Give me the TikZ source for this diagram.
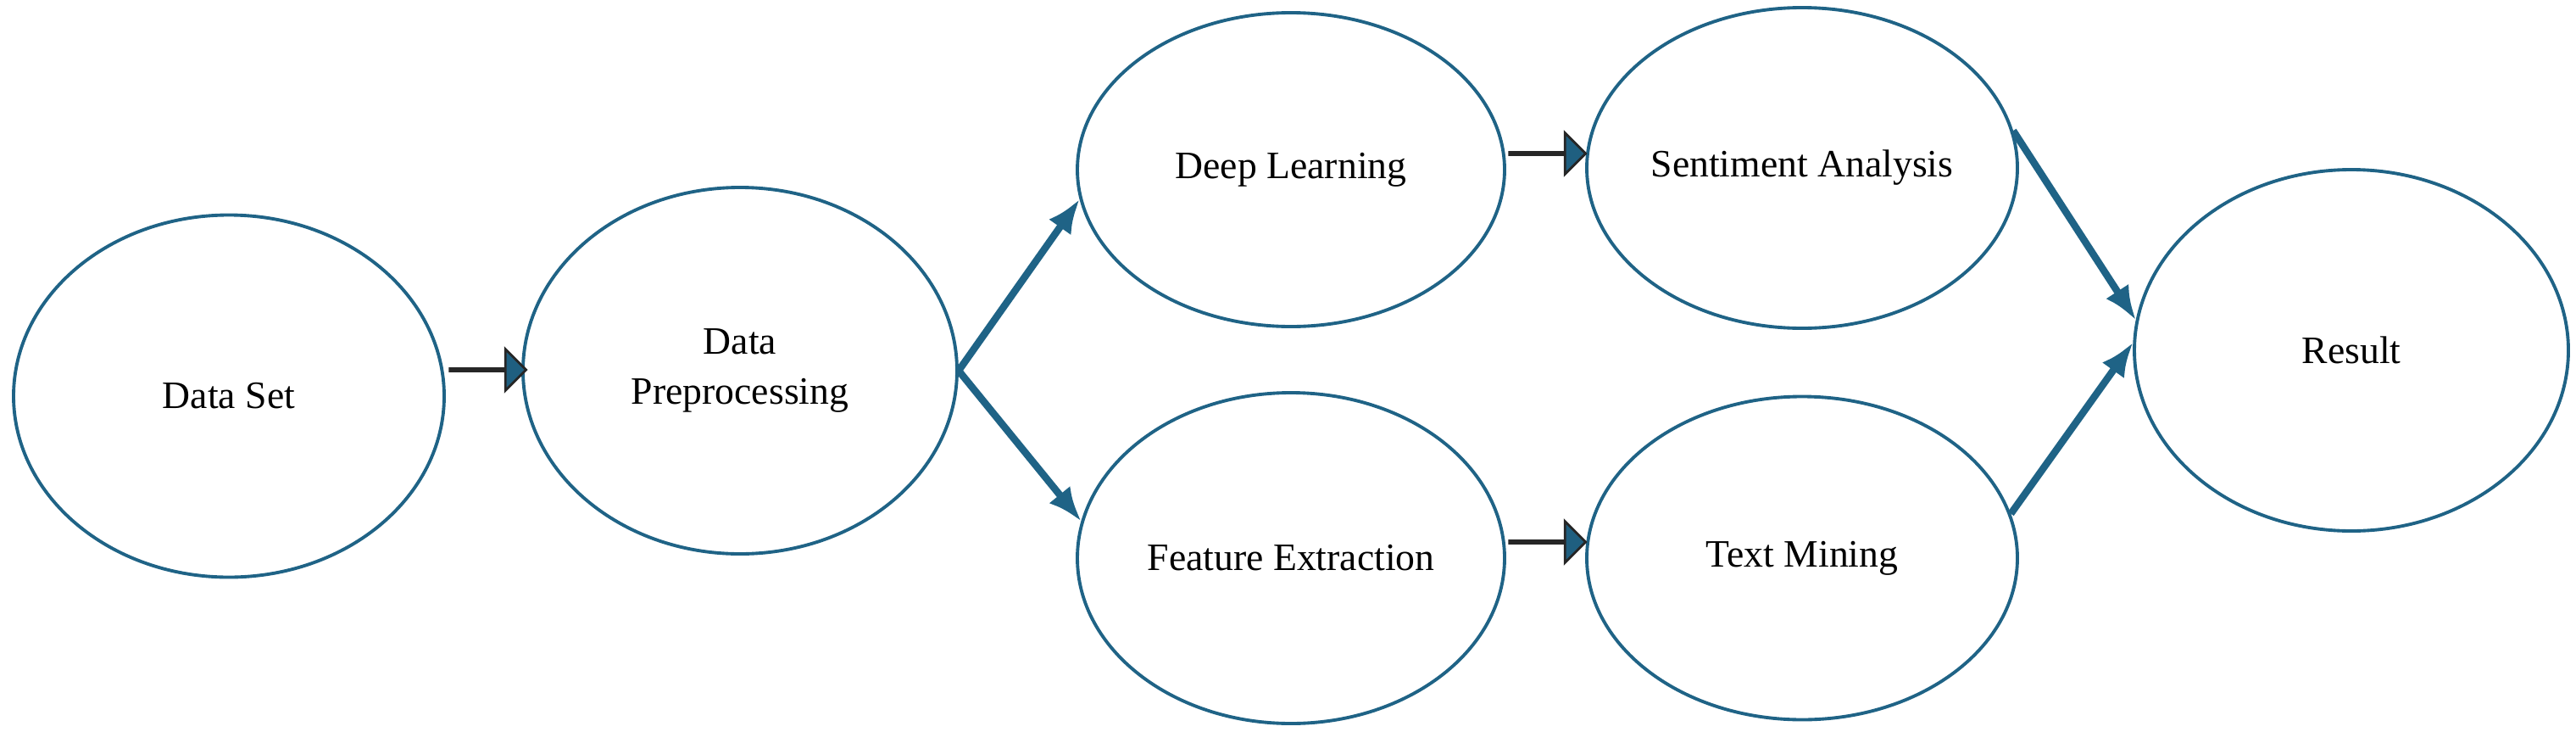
\documentclass[tikz,border=0pt]{standalone}
\usepackage{fontspec}
\setmainfont{Liberation Serif}
\usetikzlibrary{shapes.geometric,shapes.arrows,arrows.meta}
\definecolor{flowblue}{HTML}{1F6386}
\definecolor{blockfill}{HTML}{1F5F80}
\tikzset{
  stage/.style={ellipse, draw=flowblue, line width=1.1pt, inner sep=0pt,
    label={[align=center, font=\fontsize{13}{17}\selectfont]center:#1}},
  block/.style={single arrow, draw=black!85, fill=blockfill, line width=0.8pt,
    minimum width=0.45cm, single arrow head extend=0.23cm, minimum height=0.9cm, inner sep=0pt},
  link/.style={draw=flowblue, line width=2.4pt, -{Latex[length=4mm,width=3.2mm]}}
}
\begin{document}
\begin{tikzpicture}
    \useasboundingbox (0,0) rectangle (30.39,8.62);

    % Draw stages
    \node[stage={Data Set}, minimum width=5.08cm, minimum height=4.27cm] (dataset) at (2.70,3.95) {};
    \node[stage={Data\\Preprocessing}, minimum width=5.12cm, minimum height=4.32cm] (prep) at (8.73,4.25) {};
    \node[stage={Deep Learning}, minimum width=5.04cm, minimum height=3.70cm] (deep) at (15.23,6.62) {};
    \node[stage={Sentiment Analysis}, minimum width=5.08cm, minimum height=3.78cm] (senti) at (21.26,6.64) {};
    \node[stage={Feature Extraction}, minimum width=5.04cm, minimum height=3.90cm] (feat) at (15.23,2.04) {};
    \node[stage={Text Mining}, minimum width=5.08cm, minimum height=3.81cm] (mining) at (21.26,2.04) {};
    \node[stage={Result}, minimum width=5.12cm, minimum height=4.26cm] (result) at (27.74,4.49) {};

    % Block arrows
    \node[block] (b1) at (5.75,4.26) {};
    \node[block] (b2) at (18.25,6.81) {};
    \node[block] (b3) at (18.25,2.23) {};

    % Connectors
    \draw[link] (prep.east) -- (deep.188);
    \draw[link] (prep.east) -- (feat.170);
    \draw[link] (senti.10) -- (result.172);
    \draw[link] (mining.12) -- (result.178);
\end{tikzpicture}
\end{document}
